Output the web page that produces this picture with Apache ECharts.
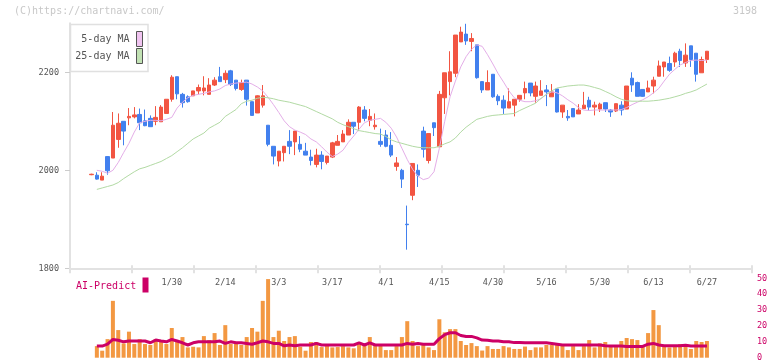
<!DOCTYPE html>
<html><head><meta charset="utf-8">
<script src="https://cdn.jsdelivr.net/npm/echarts@6/dist/echarts.min.js"></script>
<style>html,body{margin:0;padding:0;background:#fff}#c{width:772px;height:361px}</style>
</head><body><div id="c"></div>
<script>
const dates = ['1/8','1/9','1/10','1/14','1/15','1/16','1/17','1/20','1/21','1/22','1/23','1/24','1/27','1/28','1/29','1/30','1/31',
'2/3','2/4','2/5','2/6','2/7','2/10','2/12','2/13','2/14','2/17','2/18','2/19','2/20','2/21','2/25','2/26','2/27','2/28',
'3/3','3/4','3/5','3/6','3/7','3/10','3/11','3/12','3/13','3/14','3/17','3/18','3/19','3/21','3/24','3/25','3/26','3/27','3/28','3/31',
'4/1','4/2','4/3','4/4','4/7','4/8','4/9','4/10','4/11','4/14','4/15','4/16','4/17','4/18','4/21','4/22','4/23','4/24','4/25','4/28','4/30',
'5/1','5/2','5/7','5/8','5/9','5/12','5/13','5/14','5/15','5/16','5/19','5/20','5/21','5/22','5/23','5/26','5/27','5/28','5/29','5/30',
'6/2','6/3','6/4','6/5','6/6','6/9','6/10','6/11','6/12','6/13','6/16','6/17','6/18','6/19','6/20','6/23','6/24','6/25','6/26','6/27'];
const xTickLabels = ['1/30','2/14','3/3','3/17','4/1','4/15','4/30','5/16','5/30','6/13','6/27'];
const priceTicks = [1800, 2000, 2200];

const opens = [1991,1990,1980,2028,2025,2063,2100,2107,2109,2114, 2101,2106,2100,2099,2116,2145,2191,2155,2150,2152,
2162,2162,2155,2174,2191,2185,2203,2184,2165,2184, 2140,2117,2133,2092,2049,2019,2036,2059,2058,2053,
2039,2027,2012,2031,2016,2027,2051,2058,2072,2098, 2098,2123,2102,2089,2059,2072,2051,2008,2000,1890,
1949,2000,2080,2020,2097,2048,2148,2181,2198,2262, 2278,2263,2256,2181,2164,2196,2151,2143,2127,2133,
2145,2158,2178,2151,2153,2164,2150,2166,2119,2110, 2126,2115,2126,2143,2129,2125,2138,2123,2121,2133,
2125,2188,2179,2165,2160,2172,2192,2211,2218,2221, 2243,2219,2254,2239,2199,2226];
const closes = [1992,1982,1988,1999,2092,2096,2080,2110,2113,2097, 2091,2089,2108,2129,2145,2190,2156,2138,2140,2162,
2169,2168,2174,2184,2181,2198,2175,2167,2179,2145, 2112,2152,2152,2053,2029,2039,2049,2049,2080,2043,
2031,2020,2031,2018,2029,2056,2059,2074,2098,2090, 2129,2106,2110,2092,2053,2049,2031,2015,1982,1889,
2014,1990,2043,2075,2087,2155,2199,2201,2276,2282, 2264,2269,2189,2164,2179,2150,2142,2127,2140,2145,
2153,2167,2158,2172,2162,2160,2160,2119,2133,2107, 2109,2123,2133,2129,2133,2135,2125,2119,2136,2123,
2172,2174,2151,2151,2168,2184,2213,2221,2204,2239, 2224,2235,2226,2196,2226,2243];
const lows = [1990,1981,1980,1991,2025,2046,2051,2092,2106,2082, 2090,2089,2092,2099,2116,2140,2145,2128,2138,2152,
2155,2153,2155,2172,2181,2178,2172,2163,2162,2132, 2112,2117,2128,2049,2012,2008,2018,2033,2031,2037,
2031,2010,2006,2002,2012,2025,2051,2058,2072,2074, 2080,2100,2090,2083,2048,2047,2027,1999,1964,1838,
1939,1966,2026,2014,2070,2048,2115,2153,2190,2262, 2256,2243,2187,2158,2164,2148,2133,2115,2127,2110,
2140,2145,2151,2138,2153,2131,2150,2118,2107,2101, 2109,2115,2126,2121,2112,2119,2119,2109,2119,2112,
2125,2160,2151,2150,2160,2157,2192,2191,2201,2211, 2211,2211,2211,2181,2199,2219];
const highs = [1993,1996,1996,2029,2119,2116,2100,2127,2129,2126, 2124,2112,2131,2133,2145,2194,2191,2158,2153,2162,
2175,2192,2188,2190,2211,2204,2205,2184,2185,2184, 2140,2153,2174,2092,2049,2039,2049,2082,2080,2070,
2056,2042,2044,2039,2029,2058,2072,2082,2104,2098, 2131,2131,2125,2116,2085,2082,2078,2027,2003,1928,
2014,2012,2089,2075,2097,2162,2199,2243,2276,2293, 2299,2280,2256,2181,2204,2196,2155,2153,2167,2145,
2153,2181,2178,2181,2184,2174,2176,2166,2133,2123, 2126,2135,2160,2150,2140,2138,2138,2125,2136,2141,
2172,2200,2181,2165,2183,2191,2224,2221,2232,2242, 2248,2259,2254,2239,2232,2243];

const ma5 = ['-',2000,1998,1994,2000,2016,2036,2055,2078,2097, 2100,2102,2102,2101,2104,2108,2127,2139,2148,2153,
2155,2157,2160,2162,2166,2173,2176,2178,2179,2180, 2176,2170,2162,2149,2134,2118,2101,2089,2082,2078,
2073,2064,2058,2048,2037,2028,2033,2041,2057,2070, 2084,2097,2102,2104,2106,2098,2086,2068,2045,2022,
2002,1988,1981,1984,1997,2045,2100,2150,2182,2211, 2232,2247,2256,2253,2236,2217,2197,2180,2162,2148,
2143,2140,2140,2142,2146,2155,2160,2158,2152,2144, 2137,2128,2123,2122,2123,2123,2123,2123,2123,2124,
2128,2134,2139,2144,2150,2158,2167,2182,2196,2206, 2215,2220,2224,2225,2224,2225];
const ma25 = ['-',1961,1964,1967,1970,1975,1983,1990,1997,2003, 2006,2010,2014,2018,2024,2030,2038,2046,2055,2064,
2070,2076,2086,2092,2098,2110,2117,2124,2136,2141, 2143,2147,2149,2148,2146,2143,2141,2139,2136,2133,
2130,2125,2120,2115,2110,2105,2098,2093,2089,2085, 2081,2079,2077,2075,2074,2069,2062,2058,2055,2052,
2049,2047,2046,2046,2046,2049,2054,2058,2066,2078, 2088,2096,2104,2107,2110,2112,2113,2114,2115,2116,
2122,2127,2132,2137,2147,2155,2162,2168,2170,2172, 2173,2174,2174,2172,2169,2166,2161,2156,2150,2145,
2142,2141,2141,2141,2141,2142,2143,2145,2147,2150, 2153,2157,2160,2164,2170,2176];

const volume = ['-',7.3,4.4,11.7,35.8,17.4,9,16.4,8.6,11.7, 8.6,8,11.7,11.1,8.6,18.7,11.1,13,6.5,6.9,
6.5,13.6,11.1,15.5,8,20.5,8.6,9,8,13, 18.7,16.4,35.8,49.5,13,17,10.5,13,13.6,6.9,
4.4,9.9,9.9,6.7,8,6.5,6.7,7.3,6.5,5.9, 9.9,8.6,13,7.3,8,4.8,4.8,7.3,13,23,
10.5,7.3,8,6.5,4.8,24.2,16,18,18,10.5, 8,9.2,7.3,4.5,7.3,5.5,5.5,7.3,6.5,5.5,
5.5,7,4.8,6.5,6.5,8,8,8,7.5,4.8, 7.3,4.8,7.3,11.1,6.5,9,9.9,7.3,8,10.5,
12.4,11.7,11.1,7.3,15.5,30,20.5,7,6.5,7.3, 8.6,8,5.5,10.5,9.9,10.5];
const aiPredict = ['-',7.3,7.3,8.5,11.5,11,10,10.5,10.5,10.5, 10.5,9.4,11.1,10.5,10,11.5,10.5,9.4,8,9.4,
10,10,10,10,10.5,9,10,9.4,9.4,9, 8.5,9.4,10.5,10,9,9,7.5,8,7.5,8,
8,8,9,8,8,8,8,8,8,8, 9.4,8,9.4,8,8,8,8,8,8,9,
8.5,9,8.5,8.5,8.5,12,14.5,15.7,15.7,14, 13.4,13.4,12.5,11.1,11,10.5,10.5,10,10,9.5,
9.5,9.4,9.4,9.4,9.4,9.4,9,8.5,8,8, 8,8,8,8,8,8,7.5,7.3,7.3,7.3,
7.1,7.1,7.1,7.1,8.5,9,8,7.5,7.5,7.5, 7.5,7.8,7.3,7.3,7.3,7.3];

const candleData = opens.map((o, i) => [o, closes[i], lows[i], highs[i]]);
const FONT = 'DejaVu Sans Mono';
const PL = 88.82, PW = 620.8;       // candle plot band area
const AXL = 70, AXW = 682;          // drawn axis extent
const TOP = 23.3, PH = 245;

const chart = echarts.init(document.getElementById('c'), null, {renderer: 'canvas'});
chart.setOption({
  animation: false,
  backgroundColor: '#fff',
  grid: [
    {left: PL, width: PW, top: TOP, height: PH, containLabel: false, outerBoundsMode: 'none'},
    {left: PL, width: PW, top: 278.3, height: 79.4, containLabel: false, outerBoundsMode: 'none'},
    {left: AXL, width: AXW, top: TOP, height: PH, containLabel: false, outerBoundsMode: 'none'},
    {left: AXL, width: AXW, top: TOP, height: PH, containLabel: false, outerBoundsMode: 'none'}
  ],
  xAxis: [
    {type: 'category', gridIndex: 0, data: dates, boundaryGap: true,
     axisLine: {show: false, onZero: false}, axisTick: {show: false}, splitLine: {show: false},
     axisLabel: {interval: (i, v) => xTickLabels.includes(v), margin: 10, color: '#555', fontFamily: FONT, fontSize: 8.5}},
    {type: 'category', gridIndex: 1, data: dates, boundaryGap: true, show: false},
    {type: 'value', gridIndex: 2, min: 0, max: 11, interval: 1,
     axisLine: {show: true, onZero: false, lineStyle: {color: '#e2e2e2', width: 2}},
     axisTick: {show: true, length: 5, lineStyle: {color: '#e2e2e2', width: 2}},
     axisLabel: {show: false}, splitLine: {show: false}},
    {type: 'value', gridIndex: 3, min: 0, max: 11, interval: 1,
     axisLine: {show: false, onZero: false},
     axisTick: {show: true, inside: true, length: 3, lineStyle: {color: '#e2e2e2', width: 2}},
     axisLabel: {show: false}, splitLine: {show: false}}
  ],
  yAxis: [
    {type: 'value', gridIndex: 0, min: 1800, max: 2300, interval: 100, position: 'left', offset: PL - AXL,
     axisLine: {show: true, lineStyle: {color: '#e2e2e2', width: 2}},
     axisTick: {show: true, length: 5, customValues: priceTicks, lineStyle: {color: '#cccccc'}},
     axisLabel: {customValues: priceTicks, formatter: v => String(v), margin: 11, color: '#555', fontFamily: FONT, fontSize: 8.5},
     splitLine: {show: false}},
    {type: 'value', gridIndex: 1, min: 0, max: 50, interval: 10, position: 'right', offset: (AXL + AXW) - (PL + PW),
     axisLine: {show: false}, axisTick: {show: false}, splitLine: {show: false},
     axisLabel: {margin: 5, formatter: v => String(v), color: '#cc0066', fontFamily: FONT, fontSize: 8.5}},
    {type: 'value', gridIndex: 2, min: 0, max: 1, show: false},
    {type: 'value', gridIndex: 3, min: 0, max: 1, show: false}
  ],
  series: [
    {type: 'candlestick', xAxisIndex: 0, yAxisIndex: 0, data: candleData, barWidth: 4,
     itemStyle: {color: '#f25542', color0: '#4280ee', borderColor: '#f25542', borderColor0: '#4280ee', borderWidth: 1}},
    {name: '5-day MA', type: 'line', xAxisIndex: 0, yAxisIndex: 0, data: ma5, symbol: 'none', silent: true,
     lineStyle: {width: 1, color: '#e4aee8'}},
    {name: '25-day MA', type: 'line', xAxisIndex: 0, yAxisIndex: 0, data: ma25, symbol: 'none', silent: true,
     lineStyle: {width: 1, color: '#b2daa4'}},
    {type: 'bar', xAxisIndex: 1, yAxisIndex: 1, data: volume, barWidth: 4, itemStyle: {color: '#f39842'}},
    {name: 'AI-Predict', type: 'line', xAxisIndex: 1, yAxisIndex: 1, data: aiPredict, symbol: 'none',
     lineStyle: {width: 3, color: '#cc0066'}}
  ],
  graphic: [
    {type: 'text', left: 14, top: 6, style: {text: '(C)https://chartnavi.com/', fill: '#c8c8c8', font: '10px "DejaVu Sans Mono"'}},
    {type: 'text', right: 15, top: 6, style: {text: '3198', fill: '#c8c8c8', font: '10px "DejaVu Sans Mono"'}},
    {type: 'rect', shape: {x: 70.5, y: 24.5, width: 77.5, height: 47}, style: {fill: '#fff', stroke: '#e0e0e0', lineWidth: 1.5}, z: 10},
    {type: 'text', x: 129.5, y: 39.5, style: {text: '5-day MA', fill: '#555', font: '10px "DejaVu Sans Mono"', align: 'right', verticalAlign: 'middle'}, z: 11},
    {type: 'rect', shape: {x: 136.5, y: 31.5, width: 6, height: 15}, style: {fill: '#f0c4f0', stroke: '#555', lineWidth: 1}, z: 11},
    {type: 'text', x: 129.5, y: 56.5, style: {text: '25-day MA', fill: '#555', font: '10px "DejaVu Sans Mono"', align: 'right', verticalAlign: 'middle'}, z: 11},
    {type: 'rect', shape: {x: 136.5, y: 48.5, width: 6, height: 15}, style: {fill: '#c2e2b4', stroke: '#555', lineWidth: 1}, z: 11},
    {type: 'text', x: 76, y: 286, style: {text: 'AI-Predict', fill: '#cc0066', font: '10px "DejaVu Sans Mono"', verticalAlign: 'middle'}, z: 11},
    {type: 'rect', shape: {x: 142.5, y: 277.5, width: 6, height: 15}, style: {fill: '#cc0066'}, z: 11}
  ]
});
</script>
</body></html>
